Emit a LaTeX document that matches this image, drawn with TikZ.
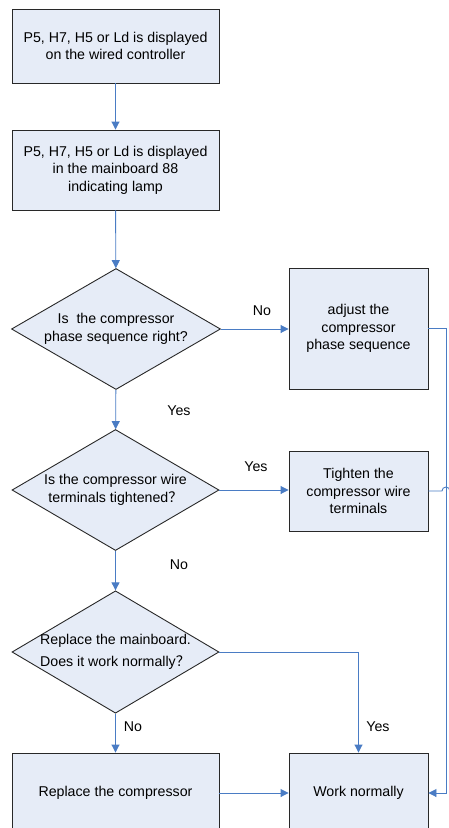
\documentclass[tikz,border=0pt]{standalone}
\usepackage{fontspec}
\setmainfont{Liberation Sans}
\newfontfamily\cjk{Noto Sans CJK SC}
\usepackage{tikz}
\usetikzlibrary{arrows.meta}
\usetikzlibrary{shapes.geometric,calc}
\definecolor{boxfill}{RGB}{230,236,247}
\definecolor{flowblue}{RGB}{74,124,196}
\definecolor{boxline}{RGB}{40,40,40}

\begin{document}
\begin{tikzpicture}[x=1pt,y=-1pt,
    font=\fontsize{14.2}{17.4}\selectfont,
    procbox/.style={draw=boxline,fill=boxfill,line width=0.9pt,align=center,inner sep=0pt},
    decision/.style={diamond,draw=boxline,fill=boxfill,line width=0.9pt,inner sep=-16pt,
                     minimum width=209pt,minimum height=121pt},
    flowline/.style={draw=flowblue,line width=0.9pt},
    flow/.style={flowline,-{Triangle[length=8pt,width=8pt]}}]
    \useasboundingbox (0,0) rectangle (449,828);
    \clip (0,0) rectangle (449,828);
    % process boxes
    \foreach \name/\x/\y/\w/\h/\txt in {
      wired/115.5/46/207/74/{P5, H7, H5 or Ld is displayed\\on the wired controller},
      lamp/115.5/170/207/80/{P5, H7, H5 or Ld is displayed\\in the mainboard 88\\indicating lamp},
      adjust/358.5/328.5/139/121/{adjust the\\compressor\\phase sequence},
      tighten/358.5/491/139/80/{Tighten the\\compressor wire\\terminals},
      compressor/115.5/793/207/80/{Replace the compressor},
      normal/358.5/793/139/80/{Work normally}}{
      \node[procbox,minimum width=\w pt,minimum height=\h pt] (\name) at (\x,\y) {\txt};
    }
    % decisions
    \node[decision,align=center] (phase) at (116,329) {Is~ the compressor\\phase sequence right?};
    \node[decision,align=center,minimum width=207pt] (wire) at (115.5,490)
      {Is the compressor wire\\terminals tightened{\cjk？}};
    \node[decision,align=left,minimum width=207pt] (board) at (115.5,652)
      {Replace the mainboard.\\[5pt]Does it work normally{\cjk？}};
    % answers
    \foreach \name/\x/\y/\txt in {
      noA/262/311/No, yesA/179/411/Yes, yesB/256/467/Yes,
      noB/179/565/No, noC/133/727/No, yesC/378/727/Yes}
      \node (\name) at (\x,\y) {\txt};
    \coordinate (edge) at (456,490);
    % connectors
    \draw[flow] (wired) -- (lamp);
    \draw[flow] (lamp) -- (phase);
    \draw[flow] (phase) -- (wire);
    \draw[flow] (wire) -- (board);
    \draw[flow] (board) -- (compressor);
    \draw[flow] (phase.east) -- (phase.east -| adjust.west);
    \draw[flow] (wire.east) -- (wire.east -| tighten.west);
    \draw[flow] (board.east) -| (normal.north);
    \draw[flow] (compressor) -- (normal);
    \draw[flow] (adjust.east) -- ++(18,0) |- (normal.east);
    \draw[flowline] (tighten.east) -- ++(13.5,0) arc (180:0:4pt) -- (edge);
  \end{tikzpicture}
\end{document}
